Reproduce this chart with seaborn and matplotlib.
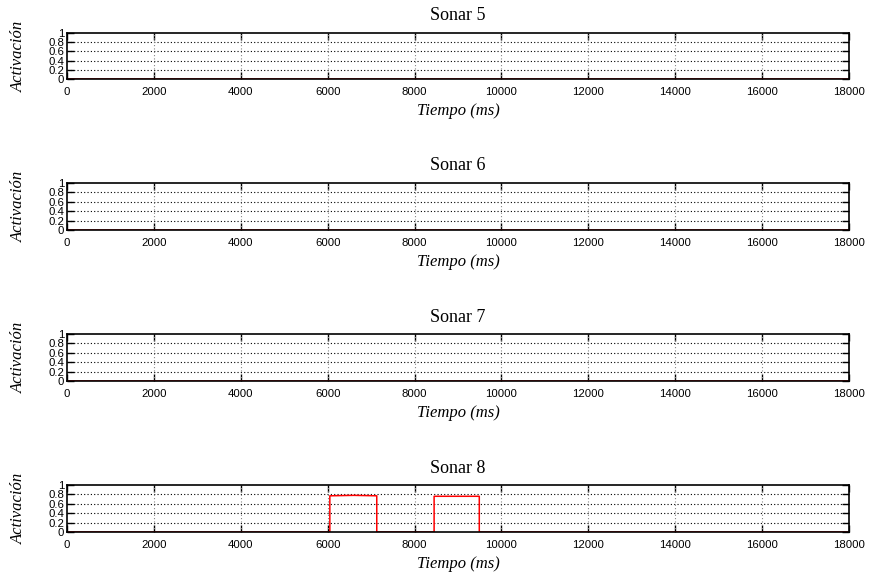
import matplotlib
matplotlib.use("Agg")
import matplotlib.pyplot as plt
import seaborn as sns
import pandas as pd

sns.set_theme(style="white")
plt.rcParams["font.family"] = ["Liberation Sans", "DejaVu Sans"]
plt.rcParams["text.color"] = "black"
plt.rcParams["axes.labelcolor"] = "black"
plt.rcParams["xtick.color"] = "black"
plt.rcParams["ytick.color"] = "black"

# Sonar activation traces (time in ms, activation 0..1)
titles = ["Sonar 5", "Sonar 6", "Sonar 7", "Sonar 8"]
t_flat = [0, 18000]
a_flat = [0, 0]
t_s8 = [0, 6050, 6050, 6600, 7130, 7130, 8450, 8450, 9000, 9490, 9490, 18000]
a_s8 = [0, 0, 0.77, 0.78, 0.77, 0, 0, 0.76, 0.76, 0.76, 0, 0]
series = [(t_flat, a_flat), (t_flat, a_flat), (t_flat, a_flat), (t_s8, a_s8)]

x_ticks = [0, 2000, 4000, 6000, 8000, 10000, 12000, 14000, 16000, 18000]
y_ticks = [0, 0.2, 0.4, 0.6, 0.8, 1]
y_tick_labels = ["0", "0.2", "0.4", "0.6", "0.8", "1"]

W, H = 874, 575
fig = plt.figure(figsize=(W / 100, H / 100), dpi=100)

# panel extents in pixels (top, bottom)
rows = [(33, 79), (183, 230), (334, 381), (485, 532)]
left_px, right_px = 67, 849
width_px = right_px - left_px

serif = ["Liberation Serif", "DejaVu Serif"]

for (top, bot), title, (tt, aa) in zip(rows, titles, series):
    ax = fig.add_axes([left_px / W, 1 - bot / H, width_px / W, (bot - top) / H])
    df = pd.DataFrame({"t": tt, "a": aa})
    ax.set_xlim(0, 18000)
    ax.set_ylim(0, 1)
    for y in y_ticks[1:-1]:
        ax.axhline(y, color="black", lw=0.8, ls=(0, (1, 2)), zorder=1)
    for x in x_ticks[1:-1]:
        ax.axvline(x, color="#888888", lw=0.8, ls=(0, (1, 2)), zorder=1)
    sns.lineplot(data=df, x="t", y="a", ax=ax, color="red", lw=1.1,
                 sort=False, estimator=None, zorder=2)
    ax.set_xticks(x_ticks)
    ax.set_xticklabels([str(v) for v in x_ticks], fontsize=8.2)
    ax.set_yticks(y_ticks)
    ax.set_yticklabels(y_tick_labels, fontsize=8.2)
    ax.tick_params(axis="both", direction="in", length=5, width=1, color="black",
                   top=True, right=True, bottom=True, left=True)
    ax.tick_params(axis="x", pad=6)
    ax.tick_params(axis="y", pad=2)
    for s in ax.spines.values():
        s.set_color("black")
        s.set_linewidth(1.2)
        s.set_visible(True)
        s.set_zorder(4)
    ax.set_title(title, fontsize=13, family=serif, pad=9)
    ax.set_xlabel("Tiempo (ms)", fontsize=12, family=serif, style="italic", labelpad=4)
    ax.set_ylabel("Activación", fontsize=12, family=serif, style="italic")
    ax.yaxis.set_label_coords(-40 / width_px, 0.5)
    ax.grid(False)

fig.savefig("out.png", dpi=100, facecolor="white")
